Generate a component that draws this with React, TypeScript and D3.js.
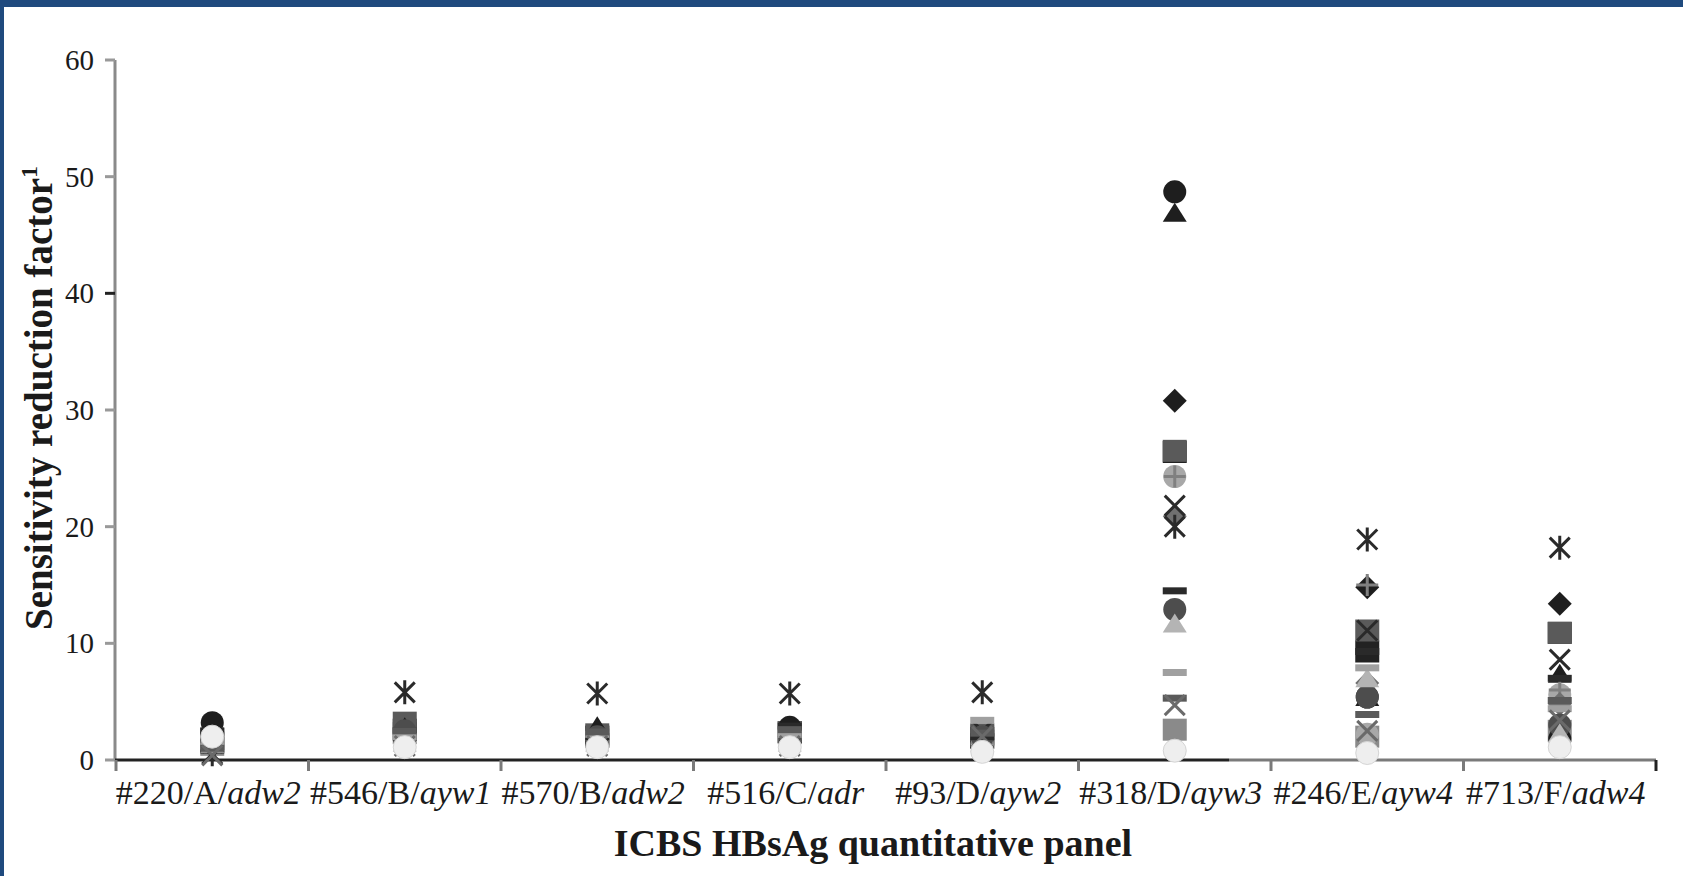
import * as d3 from "d3";

// panel members on the x axis: id/genotype/ + subtype (italic)
const panelIds = ["#220/A/", "#546/B/", "#570/B/", "#516/C/", "#93/D/", "#318/D/", "#246/E/", "#713/F/"];
const subtypes = ["adw2", "ayw1", "adw2", "adr", "ayw2", "ayw3", "ayw4", "adw4"];
const yTicks = [0, 10, 20, 30, 40, 50, 60];

// sensitivity reduction factor per assay, one value per panel member
const blackCircle = [3.2, 1.8, 1.6, 2.8, 1.6, 48.7, 5.4, 1.8];
const blackTriangle = [1.5, 2.8, 2.9, 2.2, 1.8, 46.9, 5.4, 7.4];
const blackDiamond = [1.2, 2.2, 2.0, 2.0, 1.8, 30.8, 14.8, 13.4];
const darkSquare = [1.8, 3.2, 2.2, 2.4, 2.2, 26.5, 11.1, 10.9];
const lightCircle = [1.6, 2.0, 1.8, 2.0, 1.4, 24.3, 2.2, 5.6];
const grayPlus = [1.0, 1.5, 1.5, 1.5, 1.5, 24.3, 15.0, 6.0];
const grayDiamond = [1.3, 1.8, 1.8, 1.8, 1.8, 20.9, 6.6, 4.8];
const blackX = [1.5, 1.5, 1.6, 1.5, 2.5, 21.8, 11.1, 8.6];
const asterisk = [0.5, 5.8, 5.7, 5.7, 5.8, 20.0, 18.9, 18.2];
const blackDash = [2.5, 2.5, 2.0, 2.9, 2.0, 14.5, 9.3, 7.0];
const darkCircle = [2.0, 2.5, 2.0, 2.0, 2.0, 12.9, 5.4, 3.0];
const lightTriangle = [1.4, 1.5, 1.5, 1.5, 1.5, 11.7, 7.0, 2.3];
const lightDash = [1.2, 2.0, 2.2, 2.2, 3.4, 7.5, 7.9, 4.4];
const darkDash = [1.0, 2.5, 2.4, 2.6, 2.3, 5.3, 3.9, 5.1];
const graySquare = [1.3, 2.3, 2.0, 2.3, 2.1, 2.6, 2.0, 2.5];
const blackSquare = [1.5, 2.6, 2.0, 2.4, 1.9, 26.4, 9.3, 10.9];
const grayX = [0.4, 1.2, 1.2, 1.2, 2.0, 4.7, 2.5, 3.4];
const whiteCircle = [2.0, 1.1, 1.1, 1.1, 0.7, 0.8, 0.6, 1.1];

type Shape = "circle" | "square" | "triangle" | "diamond" | "dash" | "x" | "asterisk" | "plus";

const series: { values: number[]; shape: Shape; color: string }[] = [
  { values: graySquare, shape: "square", color: "#8a8a8a" },
  { values: blackSquare, shape: "square", color: "#222" },
  { values: darkSquare, shape: "square", color: "#5a5a5a" },
  { values: blackTriangle, shape: "triangle", color: "#1e1e1e" },
  { values: blackCircle, shape: "circle", color: "#1e1e1e" },
  { values: blackDiamond, shape: "diamond", color: "#1e1e1e" },
  { values: lightCircle, shape: "circle", color: "#a8a8a8" },
  { values: grayPlus, shape: "plus", color: "#808080" },
  { values: grayDiamond, shape: "diamond", color: "#707070" },
  { values: blackX, shape: "x", color: "#2a2a2a" },
  { values: asterisk, shape: "asterisk", color: "#2a2a2a" },
  { values: darkCircle, shape: "circle", color: "#4d4d4d" },
  { values: lightTriangle, shape: "triangle", color: "#b4b4b4" },
  { values: blackDash, shape: "dash", color: "#2a2a2a" },
  { values: lightDash, shape: "dash", color: "#a0a0a0" },
  { values: darkDash, shape: "dash", color: "#5a5a5a" },
  { values: grayX, shape: "x", color: "#6a6a6a" },
  { values: whiteCircle, shape: "circle", color: "#eeeeee" },
];

function Marker({ shape, color }: { shape: Shape; color: string }) {
  const r = 11.5;
  switch (shape) {
    case "circle":
      return <circle r={r} fill={color} stroke={color === "#eeeeee" ? "#d4d4d4" : "none"} strokeWidth={1} />;
    case "square":
      return <rect x={-12} y={-11} width={24} height={22} fill={color} />;
    case "triangle":
      return <path d="M0,-10L12,9L-12,9Z" fill={color} />;
    case "diamond":
      return <path d="M0,-12L12,0L0,12L-12,0Z" fill={color} />;
    case "dash":
      return <rect x={-12} y={-3.5} width={24} height={7} fill={color} />;
    case "x":
      return <path d="M-10,-10L10,10M10,-10L-10,10" stroke={color} strokeWidth={3} fill="none" />;
    case "asterisk":
      return <path d="M-10,-10L10,10M10,-10L-10,10M0,-12L0,12" stroke={color} strokeWidth={3} fill="none" />;
    case "plus":
      return <path d="M-11,0L11,0M0,-11L0,11" stroke={color} strokeWidth={3} fill="none" />;
  }
}

export default function App() {
  const width = 1683;
  const height = 876;
  const font = "'Liberation Serif', 'Times New Roman', serif";

  const x = d3.scaleBand<number>().domain(d3.range(panelIds.length)).range([116, 1656]).padding(0);
  const y = d3.scaleLinear().domain([0, 60]).range([760, 60]);
  const axisX = 115;
  const boundaries = d3.range(panelIds.length + 1).map((i) => x.range()[0] + i * x.step());

  return (
    <svg width={width} height={height} style={{ position: "absolute", left: 0, top: 0, display: "block" }}>
      <defs>
        <linearGradient id="xaxis" gradientUnits="userSpaceOnUse" x1={x.range()[0]} x2={x.range()[1]} y1={0} y2={0}>
          <stop offset="0.723" stopColor="#222" />
          <stop offset="0.723" stopColor="#7a7a7a" />
        </linearGradient>
      </defs>
      <rect width={width} height={height} fill="#fff" />
      <rect width={width} height={7} fill="#1F4A7E" />
      <rect width={4} height={height} fill="#1F4A7E" />

      {/* y axis */}
      <line x1={axisX} x2={axisX} y1={y(60)} y2={y(0)} stroke="#8a8a8a" strokeWidth={3} />
      {yTicks.map((t) => (
        <g key={t} transform={`translate(0,${y(t)})`}>
          <line x1={axisX - 10} x2={axisX} stroke={t === 40 ? "#222" : "#999"} strokeWidth={3} />
          <text x={94} dy="0.34em" textAnchor="end" fontSize={29} fontFamily={font} fill="#1a1a1a">
            {t}
          </text>
        </g>
      ))}

      {/* x axis */}
      <line x1={axisX} x2={x.range()[1]} y1={y(0)} y2={y(0)} stroke="url(#xaxis)" strokeWidth={3} />
      {boundaries.map((bx, i) => (
        <line key={i} x1={bx} x2={bx} y1={y(0)} y2={y(0) + 11} stroke={i === boundaries.length - 1 ? "#222" : "#7a7a7a"} strokeWidth={3} />
      ))}
      {panelIds.map((id, i) => (
        <text key={id} x={(x(i) as number) + x.bandwidth() / 2 - 4} y={804} textAnchor="middle" fontSize={34} fontFamily={font} fill="#1a1a1a">
          {id}
          <tspan fontStyle="italic">{subtypes[i]}</tspan>
        </text>
      ))}

      {/* points */}
      {series.map((s, si) => (
        <g key={si}>
          {s.values.map((v, i) => (
            <g key={i} transform={`translate(${(x(i) as number) + x.bandwidth() / 2},${y(v)})`}>
              <Marker shape={s.shape} color={s.color} />
            </g>
          ))}
        </g>
      ))}

      {/* titles */}
      <text x={873} y={856} textAnchor="middle" fontSize={38} fontWeight="bold" fontFamily={font} fill="#1a1a1a">
        ICBS HBsAg quantitative panel
      </text>
      <text transform={`translate(52,630) rotate(-90)`} fontSize={39} fontWeight="bold" fontFamily={font} fill="#1a1a1a">
        Sensitivity reduction factor
        <tspan fontSize={24} dy={-15}>1</tspan>
      </text>
    </svg>
  );
}
